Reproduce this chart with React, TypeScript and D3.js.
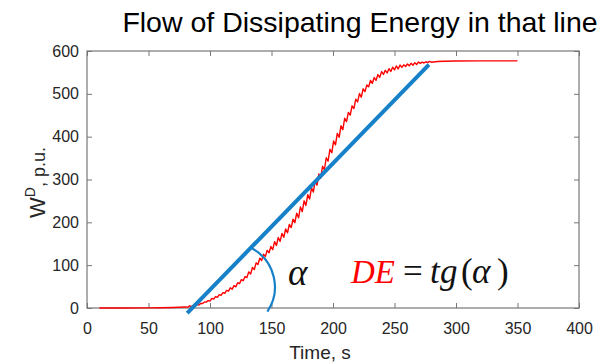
import { useEffect, useRef } from 'react'
import * as d3 from 'd3'

const W = 603, H = 362
const M = { top: 51, right: 24, bottom: 54, left: 87 }
const IW = W - M.left - M.right
const IH = H - M.top - M.bottom

const X_TICKS = [0, 50, 100, 150, 200, 250, 300, 350, 400]
const Y_TICKS = [0, 100, 200, 300, 400, 500, 600]

// flat start of the curve
const preTime = [10, 30, 50, 60, 70, 75, 80]
const preEnergy = [0, 0, 0.3, 0.6, 1.2, 1.8, 2.3]

// oscillating rise, sampled every 1.5 s from 82 s (trough / peak alternating)
const WAVE_START = 82
const WAVE_STEP = 1.5
const waveEnergy = [
  2, 4.8, 3.5, 6.3, 5, 7.8, 7.1, 10.8, 10.4, 14, 13.7, 17.4, 16, 22.3, 20.5, 26.8,
  25, 31.3, 29.5, 35.9, 34.4, 41, 39.5, 47.1, 43.6, 52.2, 49.4, 59, 56.6, 66.2, 63.8,
  73.4, 71, 84.4, 79.2, 94.6, 90, 105.4, 101.4, 116.5, 111, 125.5, 120, 134.5, 129,
  143.5, 136.2, 155, 145.8, 164.6, 155.4, 174.2, 165, 184.7, 175.6, 195.1, 187.8,
  207.5, 199.2, 221.4, 210.6, 235.8, 225, 250.2, 239.4, 264.6, 254.4, 280.5, 270.6,
  296.7, 286.8, 312.9, 303, 330.9, 322.8, 350.7, 342.6, 370.5, 362.4, 390, 380.8,
  407.7, 398.5, 425.4, 416.2, 443, 435.1, 456.8, 450.4, 472, 465.7, 487.4, 481,
  500.6, 492.1, 511.7, 505.2, 520.8, 516.3, 531.2, 524.6, 538, 531.5, 545, 538.4,
  551.9, 545.2, 555, 548.8, 558.6, 552.4, 562.2, 556, 565, 558.1, 567.2,
  561.7, 567.7, 563.8, 569.7, 565.5, 571.3, 567, 572.7, 568.5, 574.3, 571.1, 574,
  572, 574.9, 572.9, 575.8, 573.8,
]

// settled tail
const postTime = [285, 290, 300, 320, 350]
const postEnergy = [575.5, 576, 576.5, 577, 577]

// tangent line drawn over the curve
const tangentTime = [81.5, 278]
const tangentEnergy = [-12, 568]

// angle mark: centre in data units, radius in px, start/end angle in degrees
const arcCentre = { t: 117, w: 49 }
const ARC_R = 44
const ARC_FROM = -61, ARC_TO = 34

const SANS = '"Liberation Sans", Arial, Helvetica, sans-serif'
const SERIF = '"Liberation Serif", "Times New Roman", Times, serif'
const BLUE = '#1681c8'

export default function App() {
  const svgRef = useRef<SVGSVGElement>(null)

  useEffect(() => {
    const svg = d3.select(svgRef.current)
    svg.selectAll('*').remove()

    const x = d3.scaleLinear().domain([0, 400]).range([0, IW])
    const y = d3.scaleLinear().domain([0, 600]).range([IH, 0])

    const pts: [number, number][] = [
      ...preTime.map((t, i) => [t, preEnergy[i]] as [number, number]),
      ...waveEnergy.map((v, i) => [WAVE_START + i * WAVE_STEP, v] as [number, number]),
      ...postTime.map((t, i) => [t, postEnergy[i]] as [number, number]),
    ]

    svg.append('text')
      .attr('x', 360).attr('y', 32)
      .attr('text-anchor', 'middle').attr('font-family', SANS).attr('font-size', 28.5)
      .attr('fill', '#000')
      .text('Flow of Dissipating Energy in that line')

    const g = svg.append('g').attr('transform', `translate(${M.left},${M.top})`)

    // axes, ticks inward on all four sides
    const styleAxis = (sel: any) => {
      sel.select('.domain').remove()
      sel.selectAll('line').attr('stroke', '#777').attr('stroke-width', 1)
      sel.selectAll('text').attr('font-family', SANS).attr('font-size', 16).attr('fill', '#262626')
    }
    g.append('g').attr('transform', `translate(0,${IH})`)
      .call(d3.axisBottom(x).tickValues(X_TICKS).tickSize(-5).tickPadding(15).tickFormat(d3.format('d')))
      .call(styleAxis)
    g.append('g')
      .call(d3.axisTop(x).tickValues(X_TICKS).tickSize(-5).tickFormat(() => ''))
      .call(styleAxis)
    g.append('g')
      .call(d3.axisLeft(y).tickValues(Y_TICKS).tickSize(-5).tickPadding(8).tickFormat(d3.format('d')))
      .call(styleAxis)
    g.append('g').attr('transform', `translate(${IW},0)`)
      .call(d3.axisRight(y).tickValues(Y_TICKS).tickSize(-5).tickFormat(() => ''))
      .call(styleAxis)

    g.append('rect')
      .attr('x', 0).attr('y', 0).attr('width', IW).attr('height', IH)
      .attr('fill', 'none').attr('stroke', '#777').attr('stroke-width', 1.2)

    // axis labels
    g.append('text')
      .attr('x', IW / 2 - 13).attr('y', IH + 51)
      .attr('text-anchor', 'middle').attr('font-family', SANS).attr('font-size', 19)
      .attr('fill', '#262626').text('Time, s')

    const yl = svg.append('text')
      .attr('transform', 'rotate(-90)')
      .attr('x', -218).attr('y', 45)
      .attr('font-family', SANS).attr('fill', '#262626')
    yl.append('tspan').attr('font-size', 22).text('W')
    yl.append('tspan').attr('font-size', 14).attr('dy', -10).text('D')
    yl.append('tspan').attr('font-size', 18).attr('dy', 10).text(', p.u.')

    // energy curve
    g.append('path')
      .datum(pts)
      .attr('d', d3.line<[number, number]>().x((d) => x(d[0])).y((d) => y(d[1])))
      .attr('fill', 'none').attr('stroke', '#ff0000').attr('stroke-width', 1.4)
      .attr('stroke-linejoin', 'round')

    // tangent
    g.append('line')
      .attr('x1', x(tangentTime[0])).attr('y1', y(tangentEnergy[0]))
      .attr('x2', x(tangentTime[1])).attr('y2', y(tangentEnergy[1]))
      .attr('stroke', BLUE).attr('stroke-width', 4)

    // angle arc
    const p = d3.path()
    const rad = Math.PI / 180
    p.arc(x(arcCentre.t), y(arcCentre.w), ARC_R, ARC_FROM * rad, ARC_TO * rad)
    g.append('path').attr('d', p.toString())
      .attr('fill', 'none').attr('stroke', BLUE).attr('stroke-width', 2.2)

    // annotation text
    g.append('text')
      .attr('x', 288 - M.left).attr('y', 285 - M.top)
      .attr('font-family', SERIF).attr('font-style', 'italic').attr('font-size', 37)
      .attr('fill', '#111').text('α')

    const eq = [
      { s: 'DE', x: 351, it: true, c: '#ff0000', fs: 33 },
      { s: '=', x: 403, it: false, c: '#111', fs: 35 },
      { s: 't', x: 430, it: true, c: '#111', fs: 35 },
      { s: 'g', x: 440, it: true, c: '#111', fs: 35 },
      { s: '(', x: 461, it: false, c: '#111', fs: 35 },
      { s: 'α', x: 472, it: true, c: '#111', fs: 35 },
      { s: ')', x: 497, it: false, c: '#111', fs: 35 },
    ]
    g.selectAll('text.eq').data(eq).join('text').attr('class', 'eq')
      .attr('x', (d) => d.x - M.left).attr('y', 283 - M.top)
      .attr('font-family', SERIF).attr('font-size', (d) => d.fs)
      .attr('font-style', (d) => (d.it ? 'italic' : 'normal'))
      .attr('fill', (d) => d.c).text((d) => d.s)
  }, [])

  return (
    <svg ref={svgRef} width={W} height={H}
      style={{ position: 'absolute', left: 0, top: 0, background: '#fff' }} />
  )
}
